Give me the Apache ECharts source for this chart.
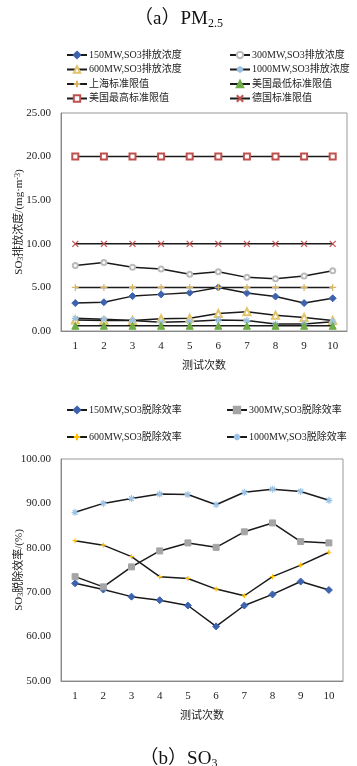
<!DOCTYPE html>
<html><head><meta charset="utf-8">
<script src="https://cdn.jsdelivr.net/npm/echarts@6/dist/echarts.min.js"></script>
<style>html,body{margin:0;padding:0;background:#fff}#c{width:357px;height:766px}</style>
</head><body><div id="c"></div>
<script>
const categories = ['1','2','3','4','5','6','7','8','9','10'];
// Chart (a): SO3 emission concentration, mg/m3
const emis150 = [3.2, 3.3, 4.0, 4.2, 4.4, 5.0, 4.35, 3.95, 3.2, 3.75];
const emis300 = [7.5, 7.85, 7.3, 7.1, 6.5, 6.8, 6.15, 6.0, 6.3, 6.9];
const emis600 = [1.25, 1.2, 1.2, 1.4, 1.45, 2.0, 2.2, 1.8, 1.55, 1.2];
const emis1000 = [1.45, 1.35, 1.2, 1.0, 1.1, 1.25, 1.2, 0.8, 0.8, 1.05];
const limShanghai = [5, 5, 5, 5, 5, 5, 5, 5, 5, 5];
const limUSLow = [0.6, 0.6, 0.6, 0.6, 0.6, 0.6, 0.6, 0.6, 0.6, 0.6];
const limUSHigh = [20, 20, 20, 20, 20, 20, 20, 20, 20, 20];
const limGermany = [10, 10, 10, 10, 10, 10, 10, 10, 10, 10];
// Chart (b): SO3 removal efficiency, %
const eff150 = [72.0, 70.6, 69.0, 68.2, 67.0, 62.3, 67.0, 69.5, 72.4, 70.5];
const eff300 = [73.5, 71.2, 75.7, 79.3, 81.1, 80.1, 83.6, 85.6, 81.4, 81.1];
const eff600 = [81.6, 80.6, 78.0, 73.5, 73.1, 70.7, 69.2, 73.5, 76.1, 79.0];
const eff1000 = [88.0, 90.0, 91.1, 92.1, 92.0, 89.7, 92.5, 93.2, 92.7, 90.7];

const FONT = '"Liberation Serif","Noto Sans CJK SC",serif';
const asterisk = 'path://M5,0L5,10M0,5L10,5M1.5,1.5L8.5,8.5M8.5,1.5L1.5,8.5';
const plus = 'path://M5,0L5,10M0,5L10,5';
const cross = 'path://M1,1L9,9M9,1L1,9';

function mkSeries(name, data, xi, yi, symbol, color, opts) {
  opts = opts || {};
  const stroked = opts.stroked;
  return {
    name, type: 'line', data, xAxisIndex: xi, yAxisIndex: yi,
    symbol, symbolSize: opts.size || 6,
    showAllSymbol: true,
    lineStyle: { color: opts.lineColor || '#1a1a1a', width: opts.width || 1.5 },
    itemStyle: stroked ? { color: 'rgba(0,0,0,0)', borderColor: color, borderWidth: 1.2 }
                       : { color: color, borderColor: color, borderWidth: opts.bw || 1 },
    emphasis: { disabled: true },
    animation: false, z: opts.z || 2
  };
}

const chart = echarts.init(document.getElementById('c'), null, { renderer: 'canvas' });
const axisLabel = { fontFamily: FONT, fontSize: 11, color: '#222' };
const legendCommon = { orient: 'vertical', itemWidth: 20, itemHeight: 8,
  textStyle: { fontFamily: FONT, fontSize: 10, lineHeight: 12, color: '#222', padding: [0,0,0,-3] }, selectedMode: false, padding: 0 };

chart.setOption({
  animation: false,
  backgroundColor: '#fff',
  title: [
    { text: '（a）PM{s|2.5}', left: 'center', top: 4,
      textStyle: { fontFamily: FONT, fontSize: 19, fontWeight: 'normal', color: '#111',
        rich: { s: { fontFamily: FONT, fontSize: 12, verticalAlign: 'bottom', padding: [9,0,0,0] } } } },
    { text: '（b）SO{s|3}', left: 'center', top: 744,
      textStyle: { fontFamily: FONT, fontSize: 19, fontWeight: 'normal', color: '#111',
        rich: { s: { fontFamily: FONT, fontSize: 12, verticalAlign: 'bottom', padding: [9,0,0,0] } } } }
  ],
  legend: [
    Object.assign({ left: 66, top: 49, itemGap: 2.5,
      data: ['150MW,SO3排放浓度', '600MW,SO3排放浓度', '上海标准限值', '美国最高标准限值'] }, legendCommon),
    Object.assign({ left: 229, top: 49, itemGap: 2.5,
      data: ['300MW,SO3排放浓度', '1000MW,SO3排放浓度', '美国最低标准限值', '德国标准限值'] }, legendCommon),
    Object.assign({ left: 66, top: 404, itemGap: 15,
      data: ['150MW,SO3脱除效率', '600MW,SO3脱除效率'] }, legendCommon),
    Object.assign({ left: 226, top: 404, itemGap: 15,
      data: ['300MW,SO3脱除效率', '1000MW,SO3脱除效率'] }, legendCommon)
  ],
  grid: [
    { left: 61, top: 113, width: 286, height: 218, show: true, borderColor: '#999', borderWidth: 1, outerBoundsMode: 'none', containLabel: false },
    { left: 61, top: 459, width: 282, height: 222, show: true, borderColor: '#999', borderWidth: 1, outerBoundsMode: 'none', containLabel: false }
  ],
  xAxis: [
    { type: 'category', gridIndex: 0, data: categories, boundaryGap: true,
      name: '测试次数', nameLocation: 'middle', nameGap: 30, nameMoveOverlap: false,
      nameTextStyle: { fontFamily: FONT, fontSize: 11, color: '#222' },
      axisLine: { lineStyle: { color: '#888' } },
      axisTick: { inside: true, length: 4, interval: 0, lineStyle: { color: '#888' } },
      axisLabel: Object.assign({ margin: 10, interval: 0 }, axisLabel) },
    { type: 'category', gridIndex: 1, data: categories, boundaryGap: true,
      name: '测试次数', nameLocation: 'middle', nameGap: 30, nameMoveOverlap: false,
      nameTextStyle: { fontFamily: FONT, fontSize: 11, color: '#222' },
      axisLine: { lineStyle: { color: '#888' } },
      axisTick: { inside: true, length: 4, interval: 0, lineStyle: { color: '#888' } },
      axisLabel: Object.assign({ margin: 10, interval: 0 }, axisLabel) }
  ],
  yAxis: [
    { type: 'value', gridIndex: 0, min: 0, max: 25, interval: 5,
      name: 'SO{b|3}排放浓度/(mg·m{t|-3})', nameLocation: 'middle', nameRotate: 90, nameGap: 36, nameMoveOverlap: false,
      nameTextStyle: { fontFamily: FONT, fontSize: 11, color: '#222',
        rich: { b: { fontFamily: FONT, fontSize: 8, verticalAlign: 'bottom' }, t: { fontFamily: FONT, fontSize: 8, verticalAlign: 'top' } } },
      axisLine: { show: true, lineStyle: { color: '#888' } }, axisTick: { show: false },
      splitLine: { show: false },
      axisLabel: Object.assign({ margin: 10, formatter: v => v.toFixed(2) }, axisLabel) },
    { type: 'value', gridIndex: 1, min: 50, max: 100, interval: 10,
      name: 'SO{b|3}脱除效率/(%)', nameLocation: 'middle', nameRotate: 90, nameGap: 36, nameMoveOverlap: false,
      nameTextStyle: { fontFamily: FONT, fontSize: 11, color: '#222',
        rich: { b: { fontFamily: FONT, fontSize: 8, verticalAlign: 'bottom' } } },
      axisLine: { show: true, lineStyle: { color: '#888' } }, axisTick: { show: false },
      splitLine: { show: false },
      axisLabel: Object.assign({ margin: 10, formatter: v => v.toFixed(2) }, axisLabel) }
  ],
  series: [
    mkSeries('150MW,SO3排放浓度', emis150, 0, 0, 'diamond', '#3D63AE', { size: 7 }),
    mkSeries('300MW,SO3排放浓度', emis300, 0, 0, 'emptyCircle', '#BBBBBB', { size: 5, bw: 1 }),
    mkSeries('600MW,SO3排放浓度', emis600, 0, 0, 'emptyTriangle', '#E2C46A', { size: 7 }),
    mkSeries('1000MW,SO3排放浓度', emis1000, 0, 0, asterisk, '#9CC3E5', { size: 7, stroked: true }),
    mkSeries('上海标准限值', limShanghai, 0, 0, plus, '#D9B560', { size: 7, stroked: true }),
    mkSeries('美国最低标准限值', limUSLow, 0, 0, 'triangle', '#70AD47', { size: 7 }),
    mkSeries('美国最高标准限值', limUSHigh, 0, 0, 'emptyRect', '#C0504D', { size: 6 }),
    mkSeries('德国标准限值', limGermany, 0, 0, cross, '#C0504D', { size: 6, stroked: true }),
    mkSeries('150MW,SO3脱除效率', eff150, 1, 1, 'diamond', '#3D63AE', { size: 7 }),
    mkSeries('300MW,SO3脱除效率', eff300, 1, 1, 'rect', '#A5A5A5', { size: 6 }),
    mkSeries('600MW,SO3脱除效率', eff600, 1, 1, plus, '#FFC000', { size: 5, stroked: true }),
    mkSeries('1000MW,SO3脱除效率', eff1000, 1, 1, asterisk, '#9CC3E5', { size: 7, stroked: true })
  ]
});
</script></body></html>
